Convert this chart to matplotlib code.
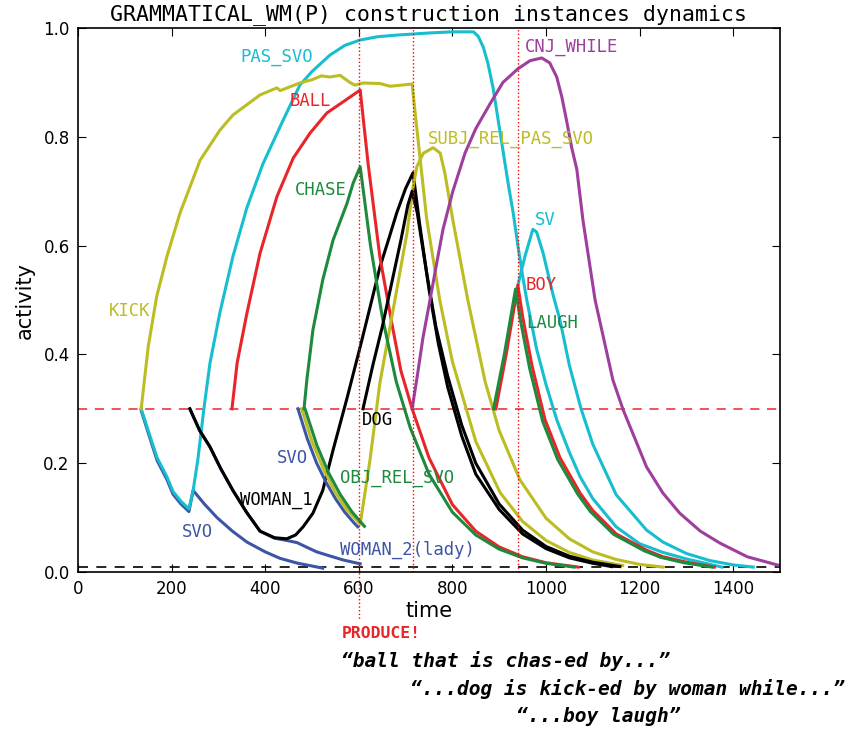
import matplotlib
matplotlib.use('Agg')
import matplotlib.pyplot as plt

plt.rcParams['font.family'] = ['DejaVu Sans']

# colours of the instances
c_olive = '#bcbd22'
c_cyan = '#17becf'
c_red = '#e8262a'
c_green = '#1d8a3e'
c_blue = '#3d55a5'
c_purple = '#9e3f9e'

# --- data ---
kick_t = [135, 150, 168, 190, 218, 261, 303, 331, 389, 425, 432, 474, 500, 520, 538, 560, 581, 592, 609, 645, 667, 714,
          716, 731, 745, 773, 800, 850, 902, 950, 1000, 1050, 1100, 1164]
kick_y = [0.30, 0.414, 0.506, 0.58, 0.66, 0.757, 0.812, 0.84, 0.877, 0.89, 0.885, 0.899, 0.905, 0.912, 0.91, 0.913, 0.90, 0.895, 0.899, 0.898, 0.893, 0.897,
          0.88, 0.76, 0.65, 0.50, 0.387, 0.24, 0.146, 0.093, 0.058, 0.036, 0.022, 0.012]

pas_svo_t = [135, 150, 169, 190, 203, 220, 237, 246, 256, 269, 282, 303, 331, 361, 395, 438, 474, 500, 538, 570, 603, 640, 681, 752, 800, 845,
             855, 866, 876, 887, 898, 909, 920, 930, 940, 950, 959, 980, 1000, 1023, 1050, 1073, 1100, 1150, 1200, 1250, 1300, 1376]
pas_svo_y = [0.30, 0.26, 0.21, 0.175, 0.148, 0.13, 0.116, 0.15, 0.206, 0.30, 0.384, 0.476, 0.58, 0.67, 0.75, 0.83, 0.895, 0.92, 0.95, 0.968, 0.978, 0.984, 0.987, 0.991, 0.993, 0.993,
             0.985, 0.965, 0.935, 0.89, 0.83, 0.77, 0.71, 0.66, 0.60, 0.545, 0.50, 0.41, 0.345, 0.28, 0.22, 0.175, 0.135, 0.083, 0.052, 0.036, 0.024, 0.009]

ball_t = [329, 340, 361, 389, 425, 460, 496, 532, 566, 603, 620, 645, 670, 690, 714, 750, 800, 850, 900, 950, 1000, 1069]
ball_y = [0.30, 0.384, 0.476, 0.586, 0.69, 0.761, 0.807, 0.844, 0.864, 0.886, 0.75, 0.58, 0.46, 0.37, 0.30, 0.21, 0.124, 0.075, 0.046, 0.028, 0.017, 0.009]

chase_t = [483, 489, 502, 523, 545, 575, 588, 603, 625, 650, 680, 710, 750, 800, 850, 900, 950, 1000, 1060]
chase_y = [0.30, 0.353, 0.445, 0.537, 0.61, 0.678, 0.715, 0.745, 0.60, 0.47, 0.35, 0.265, 0.18, 0.11, 0.068, 0.042, 0.026, 0.016, 0.009]

obj_rel_t = [485, 510, 535, 560, 585, 612]
obj_rel_y = [0.30, 0.234, 0.183, 0.143, 0.111, 0.084]

subj_rel_t = [478, 500, 525, 550, 575, 603, 624, 645, 673, 703, 716, 724, 738, 759, 774, 784, 801, 833, 870, 900, 944, 1000, 1050, 1100, 1150, 1200, 1250]
subj_rel_y = [0.30, 0.24, 0.188, 0.146, 0.114, 0.088, 0.206, 0.347, 0.48, 0.623, 0.708, 0.745, 0.77, 0.78, 0.77, 0.733, 0.647, 0.50, 0.35, 0.26, 0.17, 0.099, 0.061, 0.037, 0.023, 0.014, 0.009]

woman1_t = [239, 260, 282, 305, 331, 360, 389, 420, 446, 465, 481, 502, 523, 545, 575, 603, 625, 645, 665, 681, 700, 716,
            730, 750, 770, 790, 820, 850, 900, 950, 1000, 1050, 1100, 1140]
woman1_y = [0.30, 0.26, 0.23, 0.19, 0.15, 0.11, 0.075, 0.063, 0.061, 0.068, 0.083, 0.108, 0.15, 0.224, 0.32, 0.414, 0.49, 0.56, 0.615, 0.66, 0.705, 0.734,
            0.64, 0.52, 0.42, 0.34, 0.25, 0.18, 0.115, 0.07, 0.043, 0.026, 0.016, 0.01]

dog_t = [609, 630, 650, 670, 690, 705, 714, 725, 745, 765, 790, 820, 850, 900, 950, 1000, 1050, 1100, 1158]
dog_y = [0.30, 0.38, 0.45, 0.53, 0.61, 0.675, 0.70, 0.66, 0.55, 0.45, 0.36, 0.27, 0.20, 0.125, 0.077, 0.047, 0.029, 0.018, 0.01]

woman2_t = [239, 260, 282, 305, 331, 360, 389, 420, 446, 468, 490, 510, 540, 567, 603]
woman2_y = [0.30, 0.26, 0.23, 0.19, 0.15, 0.11, 0.075, 0.062, 0.058, 0.054, 0.045, 0.037, 0.029, 0.022, 0.015]

svo1_t = [135, 150, 169, 190, 203, 220, 237, 246, 270, 297, 330, 361, 400, 432, 470, 500, 523]
svo1_y = [0.297, 0.256, 0.205, 0.17, 0.143, 0.125, 0.111, 0.15, 0.125, 0.10, 0.075, 0.055, 0.037, 0.025, 0.016, 0.011, 0.007]

svo2_t = [470, 490, 510, 530, 550, 570, 590, 598]
svo2_y = [0.30, 0.245, 0.20, 0.165, 0.135, 0.11, 0.09, 0.083]

cnj_t = [714, 725, 737, 750, 767, 780, 801, 827, 850, 880, 908, 940, 966, 991, 1008, 1023, 1034, 1044, 1055, 1066, 1079,
         1105, 1143, 1165, 1215, 1250, 1286, 1330, 1372, 1430, 1494, 1500]
cnj_y = [0.30, 0.36, 0.43, 0.49, 0.57, 0.63, 0.70, 0.77, 0.815, 0.86, 0.90, 0.925, 0.94, 0.945, 0.936, 0.91, 0.873, 0.83, 0.78, 0.74, 0.647,
         0.50, 0.353, 0.298, 0.193, 0.145, 0.108, 0.075, 0.053, 0.028, 0.013, 0.012]

sv_t = [890, 915, 938, 955, 972, 980, 994, 1015, 1030, 1050, 1075, 1100, 1150, 1215, 1250, 1300, 1350, 1400, 1443]
sv_y = [0.30, 0.41, 0.52, 0.58, 0.63, 0.625, 0.586, 0.51, 0.463, 0.38, 0.30, 0.235, 0.142, 0.077, 0.055, 0.034, 0.021, 0.013, 0.009]

boy_t = [893, 915, 940, 950, 970, 998, 1030, 1073, 1100, 1150, 1215, 1250, 1300, 1360]
boy_y = [0.30, 0.40, 0.527, 0.47, 0.38, 0.28, 0.21, 0.145, 0.113, 0.07, 0.04, 0.028, 0.018, 0.009]

laugh_t = [888, 911, 935, 945, 965, 993, 1025, 1068, 1095, 1145, 1210, 1245, 1295, 1355]
laugh_y = [0.30, 0.40, 0.52, 0.465, 0.375, 0.277, 0.207, 0.143, 0.111, 0.069, 0.039, 0.027, 0.017, 0.009]

produce_times = [600, 715, 940]

fig = plt.figure(figsize=(8.62, 7.32), dpi=100)
ax = fig.add_axes([0.0905, 0.2186, 0.8143, 0.7431])

lw = 2.2
ax.axhline(0.3, color='#e8262a', ls='--', lw=1.1, dashes=(6, 5))
ax.axhline(0.01, color='k', ls='--', lw=1.2, dashes=(6, 5))

ax.plot(svo1_t, svo1_y, color=c_blue, lw=lw)
ax.plot(pas_svo_t, pas_svo_y, color=c_cyan, lw=lw)
ax.plot(woman2_t, woman2_y, color=c_blue, lw=lw)
ax.plot(woman1_t, woman1_y, color='k', lw=lw)
ax.plot(kick_t, kick_y, color=c_olive, lw=lw)
ax.plot(ball_t, ball_y, color=c_red, lw=lw)
ax.plot(svo2_t, svo2_y, color=c_blue, lw=lw)
ax.plot(subj_rel_t, subj_rel_y, color=c_olive, lw=lw)
ax.plot(obj_rel_t, obj_rel_y, color=c_green, lw=lw)
ax.plot(chase_t, chase_y, color=c_green, lw=lw)
ax.plot(dog_t, dog_y, color='k', lw=lw)
ax.plot(cnj_t, cnj_y, color=c_purple, lw=lw)
ax.plot(sv_t, sv_y, color=c_cyan, lw=lw)
ax.plot(boy_t, boy_y, color=c_red, lw=lw)
ax.plot(laugh_t, laugh_y, color=c_green, lw=lw)

# produce markers
ax.plot([produce_times[0]] * 2, [1.0, -0.088], color='red', ls=':', lw=1, clip_on=False)
for t in produce_times[1:]:
    ax.axvline(t, color='red', ls=':', lw=1)

mono = 'DejaVu Sans Mono'
fs = 12.4
labels = [
    ('PAS_SVO', 346, 0.947, c_cyan),
    ('CNJ_WHILE', 955, 0.965, c_purple),
    ('BALL', 452, 0.866, c_red),
    ('SUBJ_REL_PAS_SVO', 748, 0.796, c_olive),
    ('CHASE', 463, 0.702, c_green),
    ('SV', 977, 0.647, c_cyan),
    ('KICK', 67, 0.48, c_olive),
    ('BOY', 957, 0.528, c_red),
    ('LAUGH', 957, 0.458, c_green),
    ('DOG', 606, 0.28, 'k'),
    ('SVO', 426, 0.21, c_blue),
    ('OBJ_REL_SVO', 559, 0.173, c_green),
    ('WOMAN_1', 347, 0.132, 'k'),
    ('SVO', 223, 0.074, c_blue),
    ('WOMAN_2(lady)', 559, 0.04, c_blue),
]
for txt, x, y, col in labels:
    ax.text(x, y, txt, color=col, fontsize=fs, family=mono, va='center', ha='left')

ax.set_xlim(0, 1500)
ax.set_ylim(0, 1.0)
ax.set_xticks([0, 200, 400, 600, 800, 1000, 1200, 1400])
ax.set_yticks([0.0, 0.2, 0.4, 0.6, 0.8, 1.0])
ax.tick_params(direction='in', top=True, right=True, labelsize=12, length=6, pad=6)
for s in ax.spines.values():
    s.set_linewidth(1.2)
ax.set_xlabel('time', fontsize=15, labelpad=2)
ax.set_ylabel('activity', fontsize=15, labelpad=6)
ax.set_title('GRAMMATICAL_WM(P) construction instances dynamics', family=mono, fontsize=15.5, pad=6)

fig.text(342 / 862, 1 - 634 / 732, 'PRODUCE!', color='#e8262a', family=mono, fontweight='bold', fontsize=11.8, va='center')
fig.text(341 / 862, 1 - 661 / 732, '\u201cball that is chas-ed by...\u201d', family=mono, fontweight='bold', style='oblique', fontsize=14, va='center')
fig.text(410 / 862, 1 - 689 / 732, '\u201c...dog is kick-ed by woman while...\u201d', family=mono, fontweight='bold', style='oblique', fontsize=14, va='center')
fig.text(516 / 862, 1 - 717 / 732, '\u201c...boy laugh\u201d', family=mono, fontweight='bold', style='oblique', fontsize=14, va='center')

fig.savefig('out.png', dpi=100)
